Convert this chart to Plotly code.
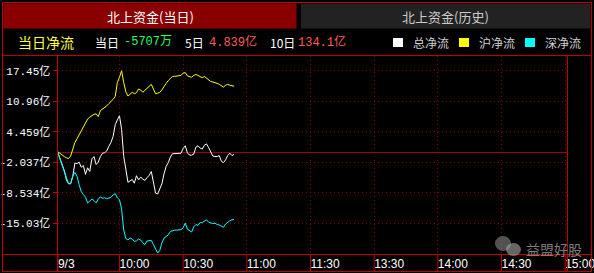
import plotly.graph_objects as go

# ---------------- data (亿元, one value per minute from 9:31) ----------------
total_flow = [0.0, -1.4, -2.5, -3.8, -5.8, -6.6, -6.6, -5.0, -2.2, -2.3,
              -2.0, -3.1, -2.7, -4.6, -3.2, -4.0, -1.3, -0.8, -2.5, -2.0,
              -0.8, -0.1, 0.0, 0.4, 1.4, 2.2, 3.5, 6.0, 7.0, 7.9,
              5.0, -0.8, -3.5, -6.3, -6.0, -5.7, -6.5, -4.9, -5.8, -5.2,
              -5.6, -5.9, -5.3, -4.8, -4.0, -6.5, -8.6, -8.8, -7.8, -6.6,
              -4.5, -2.9, -2.1, -0.9, -0.2, -0.2, -0.2, -0.2, -0.1, 0.9,
              1.5, 0.0, -0.5, -0.5, -0.3, 1.2, 1.5, 1.0, 0.8, 1.6,
              1.9, 1.1, 0.2, -0.7, -0.8, -0.8, -0.6, -1.8, -2.1, -1.5,
              -0.6, -0.1, -0.6, -0.35]
sh_flow = [0.2, -0.2, -0.5, -0.8, -1.1, -1.2, -0.7, 1.0, 2.2, 3.0,
           3.9, 4.7, 5.4, 6.3, 7.2, 7.6, 8.0, 8.2, 8.3, 7.7,
           9.0, 9.3, 9.6, 10.0, 10.5, 10.9, 11.4, 12.0, 15.0, 16.1,
           17.5, 15.0, 13.0, 12.1, 12.5, 12.9, 12.6, 12.8, 13.6, 13.4,
           12.9, 13.3, 13.8, 14.1, 14.6, 13.6, 12.6, 12.7, 12.9, 13.4,
           14.2, 14.8, 15.4, 15.9, 16.3, 16.3, 16.4, 16.4, 16.5, 17.0,
           17.1, 16.4, 16.3, 16.1, 16.5, 16.7, 16.5, 16.2, 16.0, 16.3,
           15.9, 15.4, 15.2, 15.1, 15.0, 14.8, 14.6, 14.2, 14.0, 14.4,
           14.6, 14.4, 14.3, 14.2]
sz_flow = [0.0, -1.5, -2.7, -4.0, -5.3, -6.6, -6.6, -5.0, -4.2, -5.0,
           -6.8, -8.3, -8.9, -9.5, -10.7, -10.3, -9.9, -10.2, -10.7, -9.9,
           -9.4, -9.7, -9.6, -9.8, -9.6, -9.5, -9.0, -8.7, -9.6, -10.0,
           -12.0, -16.5, -18.3, -18.6, -18.2, -18.4, -18.9, -18.8, -18.4, -18.6,
           -19.2, -19.6, -18.8, -18.7, -18.7, -19.6, -20.6, -21.4, -20.8, -19.2,
           -18.2, -17.8, -17.5, -16.8, -16.6, -16.5, -16.5, -16.5, -16.4, -16.0,
           -15.0, -16.3, -16.6, -16.9, -15.8, -15.3, -15.5, -14.9, -14.9, -14.6,
           -14.3, -14.8, -15.0, -15.1, -15.0, -15.3, -15.4, -15.7, -15.9, -15.2,
           -14.8, -14.5, -14.3, -14.2]
minute_index = list(range(1, len(total_flow) + 1))   # minutes after 9:30

y_tick_values = [17.45, 10.96, 4.459, -2.037, -8.534, -15.03]
y_tick_labels = ["17.45亿", "10.96亿", "4.459亿", "-2.037亿", "-8.534亿", "-15.03亿"]
x_tick_values = [1, 30, 60, 90, 120, 150, 180, 210, 240]
x_tick_labels = ["9/3", "10:00", "10:30", "11:00", "11:30", "13:30", "14:00", "14:30", "15:00"]

series_names = ["总净流", "沪净流", "深净流"]
series_colors = ["#ffffff", "#ffff00", "#00ffff"]

tab_titles = ["北上资金(当日)", "北上资金(历史)"]
summary_title = "当日净流"
summary_labels = ["当日", "5日", "10日"]
summary_values = ["-5707万", "4.839亿", "134.1亿"]
summary_value_colors = ["#22ff55", "#ff5a5a", "#ff5a5a"]
watermark = "益盟好股"

# ---------------- layout helpers ----------------
W, H = 594, 273
RED = "#c00000"
GRID = "#7a0000"
CJK = "Noto Sans CJK SC, sans-serif"
MONO = "Liberation Mono, Noto Sans CJK SC, monospace"


def px(x):
    return x / W


def py(y):
    return 1 - y / H


fig = go.Figure()
for vals, name, color in zip([total_flow, sh_flow, sz_flow], series_names, series_colors):
    fig.add_trace(go.Scatter(x=minute_index, y=vals, mode="lines", name=name,
                             line=dict(color=color, width=1), hoverinfo="skip"))

shapes = []


def rect(x0, y0, x1, y1, fill=None, line=None):
    shapes.append(dict(type="rect", xref="paper", yref="paper",
                       x0=px(x0), x1=px(x1), y0=py(y0), y1=py(y1),
                       fillcolor=fill if fill else "rgba(0,0,0,0)",
                       line=dict(color=line if line else "rgba(0,0,0,0)", width=1 if line else 0),
                       layer="below" if fill else "above"))


def hline(x0, x1, y, color=RED):
    shapes.append(dict(type="line", xref="paper", yref="paper", x0=px(x0), x1=px(x1),
                       y0=py(y), y1=py(y), line=dict(color=color, width=1)))


def vline(x, y0, y1, color=RED):
    shapes.append(dict(type="line", xref="paper", yref="paper", x0=px(x), x1=px(x),
                       y0=py(y0), y1=py(y1), line=dict(color=color, width=1)))


# tabs
rect(3.5, 3.5, 296.5, 28.5, fill="#8a0000")
rect(301, 3.5, 590.5, 28.5, fill="#222222")
# borders
rect(2.5, 2.5, 591.5, 271.5, line=RED)
hline(2.5, 591.5, 55.5)
hline(2.5, 591.5, 254.5)
vline(57.5, 55.5, 271.5)
vline(567.5, 55.5, 271.5)
# legend squares
for x0, c in zip([393, 459, 525], series_colors):
    rect(x0, 38, x0 + 10, 47, fill=c)
# watermark icon (two bubbles)
shapes.append(dict(type="circle", xref="paper", yref="paper", x0=px(495), x1=px(511),
                   y0=py(236), y1=py(251), fillcolor="rgba(150,150,150,0.55)", line=dict(width=0)))
shapes.append(dict(type="circle", xref="paper", yref="paper", x0=px(506), x1=px(521),
                   y0=py(243), y1=py(256), fillcolor="rgba(170,170,170,0.6)", line=dict(width=0)))

annotations = []


def text(x, y, s, color, size, family=CJK, anchor="left"):
    annotations.append(dict(x=px(x), y=py(y), xref="paper", yref="paper", text=s,
                            showarrow=False, xanchor=anchor, yanchor="middle",
                            font=dict(color=color, size=size, family=family)))


text(150, 16.5, tab_titles[0], "#ffffff", 13, anchor="center")
text(445, 16.5, tab_titles[1], "#cccccc", 13, anchor="center")
text(16, 42, summary_title, "#ffff40", 14)
for lx, lab, vx, val, vc in zip([93, 183, 268], summary_labels, [122, 207, 296],
                                summary_values, summary_value_colors):
    text(lx, 42, lab, "#ffffff", 12)
    text(vx, 42, val, vc, 12, family=MONO)
for x0, name in zip([411, 477, 543], series_names):
    text(x0, 42, name, "#d0d0d0", 12)
text(524, 249, watermark, "rgba(150,150,150,0.85)", 14)

fig.update_layout(
    width=W, height=H, margin=dict(l=0, r=0, t=0, b=0),
    paper_bgcolor="#000000", plot_bgcolor="#000000",
    showlegend=False, shapes=shapes, annotations=annotations,
    xaxis=dict(domain=[px(57.5), px(567.5)], range=[0.8, 241.1],
               tickvals=x_tick_values, ticktext=x_tick_labels,
               ticklabelposition="outside right", ticklabeloverflow="allow",
               ticks="", showline=False, zeroline=False,
               showgrid=True, gridcolor=GRID, griddash="1px,3px", gridwidth=1,
               tickfont=dict(color="#ffffff", size=12, family="Liberation Sans, Arial"),
               fixedrange=True, automargin=False),
    yaxis=dict(domain=[py(254.5), py(55.5)], range=[-21.7, 20.75],
               tickvals=y_tick_values, ticktext=y_tick_labels,
               ticks="outside", ticklen=4, tickcolor=RED, tickwidth=1,
               showline=False, zeroline=True, zerolinecolor="#a00000", zerolinewidth=1,
               showgrid=True, gridcolor=GRID, griddash="1px,3px", gridwidth=1,
               tickfont=dict(color="#ffffff", size=11, family=MONO),
               fixedrange=True, automargin=False),
)

# tick separators under the time axis
for tv in x_tick_values:
    fig.add_shape(type="line", xref="x", yref="paper", x0=tv, x1=tv,
                  y0=py(271.5), y1=py(254.5), line=dict(color=RED, width=1))

fig.write_html("out.html", config={"displayModeBar": False})
